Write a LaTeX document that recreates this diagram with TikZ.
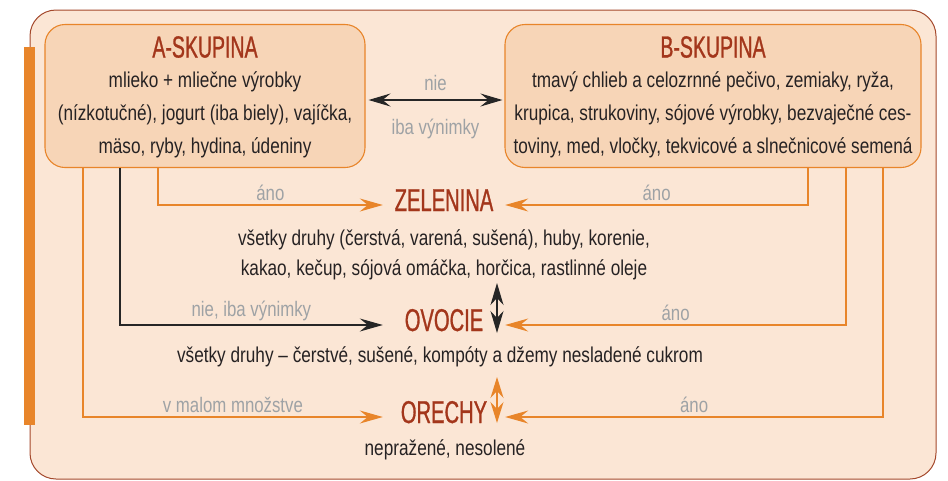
\documentclass[tikz,border=0pt]{standalone}
\usepackage{fontspec}
\setmainfont{Liberation Sans}[FakeStretch=0.8]
\newfontfamily\headfont{Liberation Sans}[FakeStretch=0.64, FakeBold=0.9]
\usetikzlibrary{arrows.meta}

\definecolor{frameline}{HTML}{A4492C}
\definecolor{framefill}{HTML}{FBE6D5}
\definecolor{boxfill}{HTML}{F7D5B7}
\definecolor{accent}{HTML}{E8852A}
\definecolor{headred}{HTML}{A3361B}
\definecolor{bodytext}{HTML}{262223}
\definecolor{labelgray}{HTML}{9EA2A5}

\tikzset{
  groupbox/.style={draw=accent, fill=boxfill, line width=1.1pt, rounded corners=20pt, inner sep=0pt},
  grouphead/.style={font=\headfont\fontsize{30.5}{34}\selectfont, text=headred, inner sep=0pt},
  bodytxt/.style={font=\fontsize{21.5}{33}\selectfont, text=bodytext, align=center, inner sep=0pt},
  rowhead/.style={font=\headfont\fontsize{31.5}{34}\selectfont, text=headred, minimum width=122pt, text height=22pt, text depth=10pt, inner sep=0pt},
  flowline/.style={draw=accent, line width=1.2pt, -{Stealth[length=23pt, width=13pt, inset=8pt]}},
  flowdark/.style={draw=black!85, line width=1.2pt, -{Stealth[length=23pt, width=13pt, inset=8pt]}},
  flowlabel/.style={font=\fontsize{21}{24}\selectfont, text=labelgray, inner sep=1pt},
  swapdark/.style={draw=black!85, line width=1.2pt, {Stealth[length=22pt, width=13pt, inset=7pt]}-{Stealth[length=22pt, width=13pt, inset=7pt]}},
  swaplight/.style={draw=accent, line width=1.2pt, {Stealth[length=21pt, width=13pt, inset=7pt]}-{Stealth[length=21pt, width=13pt, inset=7pt]}}
}

\begin{document}
\begin{tikzpicture}[x=1pt, y=-1pt]
\useasboundingbox (0,0) rectangle (948,480);
% frame
\draw[frameline, fill=framefill, line width=1pt, rounded corners=26pt] (30,10) rectangle (936,479);
\fill[accent] (24,47) rectangle (35,425);

% the two groups
\node[groupbox, minimum width=320pt, minimum height=143pt] (boxA) at (205,96) {};
\node[grouphead] (headA) at (205,47) {A-SKUPINA};
\node[bodytxt] (textA) at (205,115) {mlieko + mliečne výrobky\\(nízkotučné), jogurt (iba biely), vajíčka,\\mäso, ryby, hydina, údeniny};

\node[groupbox, minimum width=416pt, minimum height=143pt] (boxB) at (713,96) {};
\node[grouphead] (headB) at (713,47) {B-SKUPINA};
\node[bodytxt] (textB) at (713,115) {tmavý chlieb a celozrnné pečivo, zemiaky, ryža,\\krupica, strukoviny, sójové výrobky, bezvaječné ces-\\toviny, med, vločky, tekvicové a slnečnicové semená};

\draw[flowdark, {Stealth[length=22pt, width=13pt, inset=8pt]}-{Stealth[length=22pt, width=13pt, inset=8pt]}] ([xshift=3pt, yshift=-4pt]boxA.east) -- ([xshift=-2pt, yshift=-4pt]boxB.west)
  node[flowlabel, midway, above=8pt] {nie}
  node[flowlabel, midway, below=17pt] {iba výnimky};

% rows
\node[rowhead] (zel) at (444,205) {ZELENINA};
\node[bodytxt, font=\fontsize{21.5}{30}\selectfont] (zelText) at (444,255) {všetky druhy (čerstvá, varená, sušená), huby, korenie,\\kakao, kečup, sójová omáčka, horčica, rastlinné oleje};

\node[rowhead] (ovo) at (444,325) {OVOCIE};
\node[bodytxt] (ovoText) at (440,357) {všetky druhy -- čerstvé, sušené, kompóty a džemy nesladené cukrom};

\node[rowhead] (ore) at (444,417) {ORECHY};
\node[bodytxt] (oreText) at (445,450) {nepražené, nesolené};

% connectors
\draw[flowline] ([xshift=-47pt]boxA.south) |- node[flowlabel, pos=0.75, above=3pt] {áno} (zel.west);
\draw[flowline] ([xshift=95pt]boxB.south) |- node[flowlabel, pos=0.75, above=3pt] {áno} (zel.east);
\draw[flowdark] ([xshift=-85pt]boxA.south) |- node[flowlabel, pos=0.75, above=3pt] {nie, iba výnimky} (ovo.west);
\draw[flowline] ([xshift=133pt]boxB.south) |- node[flowlabel, pos=0.75, above=3pt] {áno} (ovo.east);
\draw[flowline] ([xshift=-122pt]boxA.south) |- node[flowlabel, pos=0.75, above=3pt] {v malom množstve} (ore.west);
\draw[flowline] ([xshift=170pt]boxB.south) |- node[flowlabel, pos=0.75, above=3pt] {áno} (ore.east);

\coordinate (darkTop) at (497,283);
\coordinate (darkBot) at (497,333);
\coordinate (lightTop) at (497,377);
\coordinate (lightBot) at (497,423);
\draw[swapdark] (darkTop) -- (darkBot);
\draw[swaplight] (lightTop) -- (lightBot);
\end{tikzpicture}
\end{document}
